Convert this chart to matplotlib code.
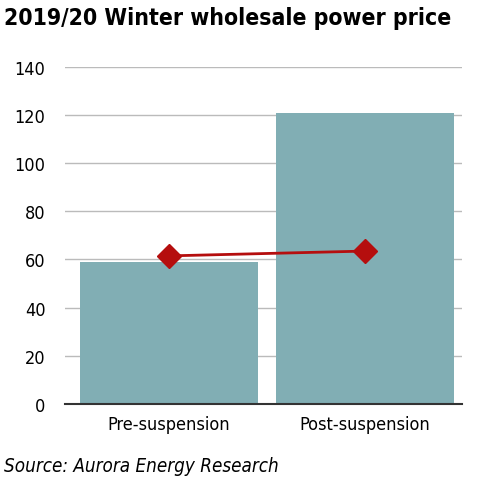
import matplotlib
matplotlib.use("Agg")
import matplotlib.pyplot as plt

categories = ["Pre-suspension", "Post-suspension"]
bar_values = [59, 121]
line_values = [61.5, 63.5]
yticks = [0, 20, 40, 60, 80, 100, 120, 140]

plt.rcParams['font.family'] = ['DejaVu Sans']
fig = plt.figure(figsize=(5.03, 4.89), dpi=100)
ax = fig.add_axes([0.129, 0.172, 0.789, 0.689])
x = list(range(len(categories)))
ax.set_axisbelow(True)
ax.grid(axis='y', color='#bbbbbb', linewidth=1)
ax.bar(x, bar_values, width=0.908, color='#81aeb4', zorder=2)
ax.plot(x, line_values, color='#b50e0e', linewidth=2, marker='D', markersize=12, zorder=3)
ax.set_xlim(-0.53, 1.495)
ax.set_ylim(0, 140)
ax.set_yticks(yticks)
ax.set_xticks(x)
ax.set_xticklabels(categories, fontsize=13, fontstretch='condensed')
for lbl in ax.get_yticklabels():
    lbl.set_fontsize(13)
    lbl.set_fontstretch('condensed')
for s in ['top', 'right', 'left']:
    ax.spines[s].set_visible(False)
ax.spines['bottom'].set_color('#333333')
ax.spines['bottom'].set_linewidth(1.5)
ax.tick_params(axis='y', length=0, pad=14)
ax.tick_params(axis='x', length=0, pad=8)
fig.text(0.008, 0.962, "2019/20 Winter wholesale power price", fontsize=16.5,
         fontweight='bold', fontstretch='condensed', va='center', ha='left')
fig.text(0.008, 0.045, "Source: Aurora Energy Research", fontsize=13.5,
         style='italic', fontstretch='condensed', va='center', ha='left')
fig.savefig("out.png", dpi=100)
